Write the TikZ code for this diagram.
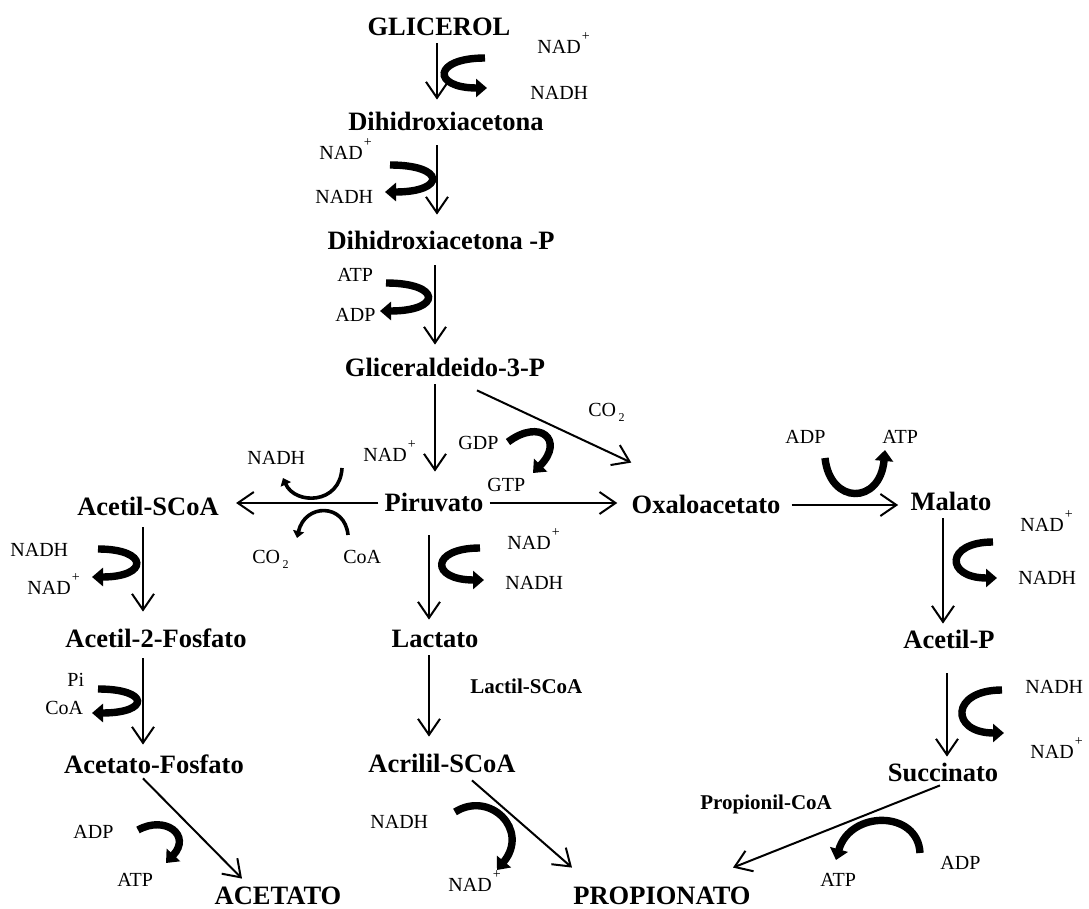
\documentclass[tikz,border=0pt]{standalone}
\usepackage{fontspec}
\setmainfont{Liberation Serif}
\usetikzlibrary{arrows.meta,calc}
\newcommand{\nadp}{NAD\kern0.6pt\raisebox{6.5pt}{\scriptsize +}}
\newcommand{\cotwo}{CO\kern1.2pt\raisebox{-2.5pt}{\fontsize{6}{7}\selectfont 2}}

\begin{document}
\begin{tikzpicture}[
            x=0.5pt, y=-0.5pt,
            met/.style={font=\fontsize{13.25}{15}\selectfont\bfseries, inner xsep=3pt, inner ysep=3.5pt, text height=9pt, text depth=0pt},
            cofac/.style={font=\fontsize{10}{12}\selectfont, inner sep=0pt, anchor=base west},
            via/.style={font=\fontsize{10.5}{12}\selectfont\bfseries, inner sep=0pt, anchor=base west},
            arrow/.style={-{Straight Barb[length=8pt,width=11pt]}, line width=1pt},
            fat/.style={-{Triangle[length=5.5pt,width=9pt]}, line width=3.7pt},
            slim/.style={-{Triangle[length=3.5pt,width=5.5pt]}, line width=1.8pt}
        ]
            \useasboundingbox (0,0) rectangle (1089,909);

            \node[met] (glic) at (439,27) {GLICEROL};
            \node[met] (dha) at (446,122) {Dihidroxiacetona};
            \node[met] (dhap) at (441,241) {Dihidroxiacetona -P};
            \node[met] (gap) at (445,368) {Gliceraldeido-3-P};
            \node[met] (pir) at (434,503) {Piruvato};
            \node[met] (oxal) at (706,505) {Oxaloacetato};
            \node[met] (mal) at (951,502) {Malato};
            \node[met] (acscoa) at (148,507) {Acetil-SCoA};
            \node[met] (ac2f) at (156,638) {Acetil-2-Fosfato};
            \node[met] (acfos) at (154,765) {Acetato-Fosfato};
            \node[met] (acet) at (278,895) {ACETATO};
            \node[met] (lact) at (435,639) {Lactato};
            \node[met] (acril) at (442,763) {Acrilil-SCoA};
            \node[met] (prop) at (662,895) {PROPIONATO};
            \node[met] (acp) at (949,640) {Acetil-P};
            \node[met] (succ) at (943,773) {Succinato};

            \coordinate (t1) at (437,0);
            \coordinate (t2) at (435,0);
            \coordinate (tL) at (143,0);
            \coordinate (tM) at (429,0);
            \coordinate (tR) at (943,0);
            \coordinate (tR2) at (947,0);

            \draw[arrow, shorten >=3pt] (glic.south -| t1) -- (dha.north -| t1);
            \draw[arrow, shorten <=3.5pt, shorten >=5pt] (dha.south -| t1) -- (dhap.north -| t1);
            \draw[arrow, shorten <=4pt, shorten >=3.5pt] (dhap.south -| t2) -- (gap.north -| t2);
            \draw[arrow, shorten >=7.5pt] (gap.south -| t2) -- (pir.north -| t2);
            \draw[arrow, shorten >=5.5pt] (pir.west) -- (pir.west -| acscoa.east);
            \draw[arrow, shorten >=4pt] (pir.east) -- (pir.east -| oxal.west);
            \draw[arrow, shorten <=2.5pt, shorten >=3pt] (oxal.east) -- (oxal.east -| mal.west);
            \draw[arrow, shorten <=2pt, shorten >=5pt] (acscoa.south -| tL) -- (ac2f.north -| tL);
            \draw[arrow, shorten <=2pt, shorten >=2pt] (ac2f.south -| tL) -- (acfos.north -| tL);
            \draw[arrow, shorten <=8pt, shorten >=1.5pt] (pir.south -| tM) -- (lact.north -| tM);
            \draw[arrow, shorten >=5pt] (lact.south -| tM) -- (acril.north -| tM);
            \draw[arrow] (mal.south -| tR) -- (acp.north -| tR);
            \draw[arrow, shorten <=8.5pt] (acp.south -| tR2) -- (succ.north -| tR2);
            \draw[arrow] ($(gap.south)+(32,6)$) -- ($(oxal.north west)+(6,-26)$);
            \draw[arrow] ($(acfos.south)+(-11,-3)$) -- ($(acet.north)+(-36,0)$);
            \draw[arrow] ($(acril.south)+(30,1)$) -- ($(prop.north)+(-90,-11)$);
            \draw[arrow] ($(succ.south)+(-3,-4)$) -- ($(prop.north)+(71,-11)$);

            \node[cofac] (n1) at (537,53.5) {\nadp};
            \node[cofac] (h1) at (530,99.5) {NADH};
            \node[cofac] (n2) at (319,159.5) {\nadp};
            \node[cofac] (h2) at (315,203.5) {NADH};
            \node[cofac] (atp1) at (337,281.5) {ATP};
            \node[cofac] (adp1) at (335,321.5) {ADP};
            \node[cofac] (n3) at (363,461.5) {\nadp};
            \node[cofac] (co1) at (588,416.5) {\cotwo};
            \node[cofac] (gdp) at (458,449.5) {GDP};
            \node[cofac] (gtp) at (487,491.5) {GTP};
            \node[cofac] (h3) at (247,464.5) {NADH};
            \node[cofac] (co2) at (252,563.5) {\cotwo};
            \node[cofac] (coa1) at (343,563.5) {CoA};
            \node[cofac] (adp2) at (785,443.5) {ADP};
            \node[cofac] (atp2) at (882,443.5) {ATP};
            \node[cofac] (h4) at (10,556.5) {NADH};
            \node[cofac] (n4) at (27,594.5) {\nadp};
            \node[cofac] (pi) at (67,686.5) {Pi};
            \node[cofac] (coa2) at (45,714.5) {CoA};
            \node[cofac] (adp3) at (73,838.5) {ADP};
            \node[cofac] (atp3) at (117,886.5) {ATP};
            \node[cofac] (n5) at (507,549.5) {\nadp};
            \node[cofac] (h5) at (505,589.5) {NADH};
            \node[via] (lsc) at (470,694) {Lactil-SCoA};
            \node[cofac] (h6) at (370,828.5) {NADH};
            \node[cofac] (n6) at (448,892) {\nadp};
            \node[cofac] (n7) at (1020,531.5) {\nadp};
            \node[cofac] (h7) at (1018,584.5) {NADH};
            \node[cofac] (h8) at (1025,693.5) {NADH};
            \node[cofac] (n8) at (1030,758.5) {\nadp};
            \node[via] (pcoa) at (700,809) {Propionil-CoA};
            \node[cofac] (atp4) at (820,886.5) {ATP};
            \node[cofac] (adp4) at (940,869.5) {ADP};

            \draw[fat] (485,58) .. controls (432,58) and (432,88) .. (487,88);
            \draw[fat] (390,165) .. controls (446,165) and (446,192) .. (385,192);
            \draw[fat] (386,283) .. controls (442,283) and (442,311) .. (380,311);
            \draw[fat] (508,442) .. controls (540,418) and (565,440) .. (533,473);
            \draw[slim] (342,468) .. controls (340,505) and (295,505) .. (283,478);
            \draw[slim] (348,535) .. controls (345,503) and (305,503) .. (297,538);
            \draw[fat] (98,549) .. controls (149,549) and (149,577) .. (92,577);
            \draw[fat] (98,689) .. controls (150,689) and (150,713) .. (92,713);
            \draw[fat] (138,830) .. controls (165,815) and (192,835) .. (166,863);
            \draw[fat] (480,548) .. controls (430,548) and (430,580) .. (484,580);
            \draw[fat] (455,812) .. controls (490,790) and (530,830) .. (497,870);
            \draw[fat] (825,458) .. controls (830,505) and (880,505) .. (885,450);
            \draw[fat] (993,542) .. controls (945,542) and (945,578) .. (997,578);
            \draw[fat] (1002,690) .. controls (950,690) and (950,733) .. (1004,733);
            \draw[fat] (920,853) .. controls (918,810) and (850,810) .. (836,860);
        \end{tikzpicture}
\end{document}
